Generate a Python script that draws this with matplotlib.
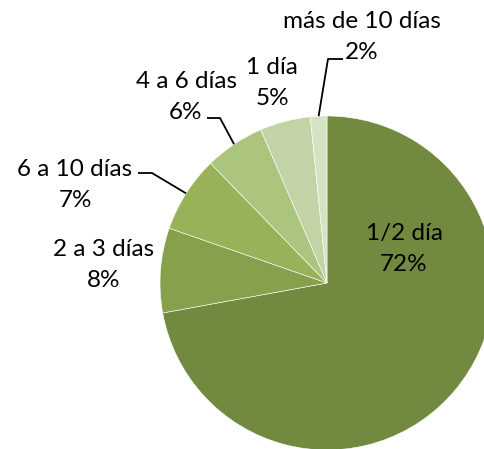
import numpy as np
import matplotlib.pyplot as plt

labels = ['1/2 día', '2 a 3 días', '6 a 10 días', '4 a 6 días', '1 día', 'más de 10 días']
values = [72.2, 8.2, 7.4, 5.8, 4.9, 1.6]
pct_text = ['72%', '8%', '7%', '6%', '5%', '2%']
colors = ['#728a40', '#86a04c', '#97b259', '#abc47e', '#c2d3a5', '#d6e2c4']

W, H = 484, 449
fig = plt.figure(figsize=(4.84, 4.49), dpi=100)
ax = fig.add_axes([0, 0, 1, 1])

cx, cy, r = 327, H - 283, 167
wedges, _ = ax.pie(values, colors=colors, startangle=90, counterclock=False,
                   center=(cx, cy), radius=r, frame=True,
                   wedgeprops=dict(edgecolor='white', linewidth=0.4))
ax.set_xlim(0, W)
ax.set_ylim(0, H)
ax.set_aspect('equal')
ax.axis('off')

font = dict(family=['Lato', 'DejaVu Sans'], fontsize=17.5, color='black',
            ha='center', va='center', linespacing=1.6)

# label positions in pixel coords (x, y from top)
label_pos = [(404, 249), (104, 265), (75, 185), (186, 97), (272, 83), (362, 37)]
for i, (lx, ly) in enumerate(label_pos):
    ax.text(lx, H - ly, labels[i] + '\n' + pct_text[i], **font)

# leader lines: (start of horizontal, elbow) -> wedge edge mid point
leaders = {5: [(343, 59), (328, 59)], 3: [(207, 118), (220, 118)], 2: [(138, 173), (152, 173)]}
for i, pts in leaders.items():
    w = wedges[i]
    mid = np.deg2rad((w.theta1 + w.theta2) / 2)
    ex, ey = cx + r * np.cos(mid), cy + r * np.sin(mid)
    xs = [p[0] for p in pts] + [ex]
    ys = [H - p[1] for p in pts] + [ey]
    ax.plot(xs, ys, color='black', lw=1.3, solid_capstyle='butt')

plt.savefig('out.png', dpi=100)
